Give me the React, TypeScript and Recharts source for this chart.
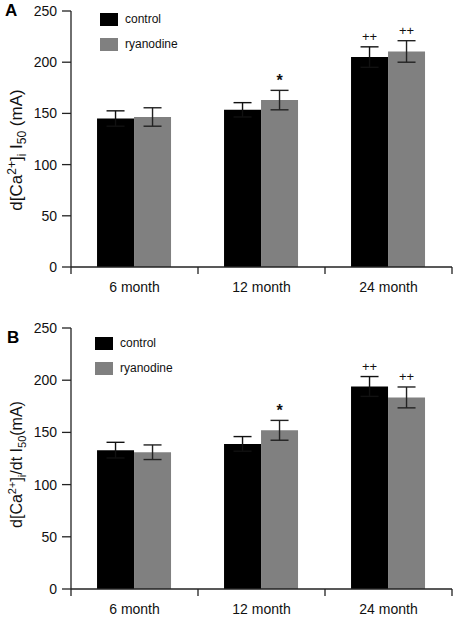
import React from "react";
import {
  BarChart,
  Bar,
  XAxis,
  YAxis,
  ErrorBar,
  LabelList,
  Label,
} from "recharts";

const months = ["6 month", "12 month", "24 month"];
const yTicks = [0, 50, 100, 150, 200, 250];

// panel A: d[Ca2+]i I50
const controlA = [145, 153.5, 205];
const controlErrA = [7.5, 7, 10];
const ryanodineA = [146.5, 163, 210.5];
const ryanodineErrA = [9, 9.5, 10.5];

// panel B: d[Ca2+]i/dt I50
const controlB = [133, 139, 194];
const controlErrB = [7.5, 7, 9.5];
const ryanodineB = [131, 152, 183.5];
const ryanodineErrB = [7, 9.5, 10];

const controlMarks = ["", "", "++"];
const ryanodineMarks = ["", "*", "++"];

const FONT = "'Liberation Sans', Arial, Helvetica, sans-serif";
const AXIS = "#222";

const buildRows = (
  ctrl: number[],
  ctrlErr: number[],
  ryan: number[],
  ryanErr: number[]
) =>
  months.map((m, i) => ({
    month: m,
    control: ctrl[i],
    controlErr: ctrlErr[i],
    ryanodine: ryan[i],
    ryanodineErr: ryanErr[i],
    controlMark: controlMarks[i],
    ryanodineMark: ryanodineMarks[i],
  }));

const MonthTick = (props: any) => {
  const { x, y, payload, index } = props;
  const half = payload && payload.offset ? payload.offset : 63.5;
  return (
    <g>
      <line x1={x - half} x2={x - half} y1={y} y2={y + 7} stroke={AXIS} strokeWidth={1.3} />
      {index === months.length - 1 && (
        <line x1={x + half} x2={x + half} y1={y} y2={y + 7} stroke={AXIS} strokeWidth={1.3} />
      )}
      <text x={x} y={y + 25} textAnchor="middle" fontSize={14} fontFamily={FONT} fill="#111">
        {payload.value}
      </text>
    </g>
  );
};

const markRenderer = (values: number[], errs: number[]) => (props: any) => {
  const { x, y, width, height, value, index } = props;
  if (!value) return null;
  const perUnit = height / values[index];
  const top = y - errs[index] * perUnit;
  const star = value === "*";
  return (
    <text
      x={x + width / 2}
      y={star ? top - 4 : top - 6}
      textAnchor="middle"
      fontSize={star ? 16 : 13}
      fontWeight={star ? "bold" : "normal"}
      fontFamily={FONT}
      fill="#111"
    >
      {value}
    </text>
  );
};

const yLabelRenderer = (kind: "A" | "B", shift: number, size: number) => (props: any) => {
  const vb = props.viewBox || { x: 11, y: 0, width: 60, height: 256 };
  const cx = vb.x + 11;
  const cy = vb.y + vb.height / 2 + shift;
  const small = Math.round(size * 0.68);
  return (
    <text
      x={cx}
      y={cy}
      transform={`rotate(-90, ${cx}, ${cy})`}
      textAnchor="middle"
      fontSize={size}
      fontFamily={FONT}
      fill="#111"
    >
      <tspan>d[Ca</tspan>
      <tspan fontSize={small} dy={-6}>2+</tspan>
      <tspan dy={6}>]</tspan>
      <tspan fontSize={small} dy={4}>i</tspan>
      {kind === "A" ? (
        <>
          <tspan dy={-4}> I</tspan>
          <tspan fontSize={small} dy={4}>50</tspan>
          <tspan dy={-4}> (mA)</tspan>
        </>
      ) : (
        <>
          <tspan dy={-4}>/dt I</tspan>
          <tspan fontSize={small} dy={4}>50</tspan>
          <tspan dy={-4}>(mA)</tspan>
        </>
      )}
    </text>
  );
};

interface PanelProps {
  letter: string;
  kind: "A" | "B";
  top: number;
  height: number;
  marginTop: number;
  axisHeight: number;
  ctrl: number[];
  ctrlErr: number[];
  ryan: number[];
  ryanErr: number[];
  legendX: number;
  legendY: number;
  labelShift: number;
  labelSize: number;
}

const Panel: React.FC<PanelProps> = (p) => {
  const rows = buildRows(p.ctrl, p.ctrlErr, p.ryan, p.ryanErr);
  return (
    <div style={{ position: "absolute", left: 0, top: p.top, width: 454, height: p.height }}>
      <BarChart
        width={454}
        height={p.height}
        data={rows}
        margin={{ top: p.marginTop, right: 2, bottom: 0, left: 11 }}
        barCategoryGap="20.5%"
        barGap={0}
      >
        <XAxis
          dataKey="month"
          height={p.axisHeight}
          tickSize={0}
          tickMargin={0}
          tickLine={false}
          stroke={AXIS}
          strokeWidth={1.3}
          tick={<MonthTick />}
          interval={0}
        />
        <YAxis
          width={60}
          domain={[0, 250]}
          ticks={yTicks}
          tickSize={9}
          tickMargin={5}
          stroke={AXIS}
          strokeWidth={1.3}
          tick={{ fontSize: 14, fontFamily: FONT, fill: "#111" }}
        >
          <Label content={yLabelRenderer(p.kind, p.labelShift, p.labelSize)} />
        </YAxis>
        <Bar dataKey="control" fill="#000000" isAnimationActive={false}>
          <ErrorBar dataKey="controlErr" width={9} stroke="#111" strokeWidth={1.4} direction="y" />
          <LabelList dataKey="controlMark" content={markRenderer(p.ctrl, p.ctrlErr)} />
        </Bar>
        <Bar dataKey="ryanodine" fill="#808080" isAnimationActive={false}>
          <ErrorBar dataKey="ryanodineErr" width={9} stroke="#222" strokeWidth={1.4} direction="y" />
          <LabelList dataKey="ryanodineMark" content={markRenderer(p.ryan, p.ryanErr)} />
        </Bar>
      </BarChart>
      <div
        style={{
          position: "absolute",
          left: p.letter === "A" ? 5 : 7,
          top: p.letter === "A" ? 1 : 23,
          fontFamily: FONT,
          fontWeight: "bold",
          fontSize: 17,
        }}
      >
        {p.letter}
      </div>
      <div style={{ position: "absolute", left: p.legendX, top: p.legendY, fontFamily: FONT, fontSize: 12 }}>
        {[
          { name: "control", color: "#000000" },
          { name: "ryanodine", color: "#808080" },
        ].map((item, i) => (
          <div
            key={item.name}
            style={{ position: "absolute", left: 0, top: i * 25, display: "flex", alignItems: "center", whiteSpace: "nowrap" }}
          >
            <span style={{ display: "inline-block", width: 18, height: 13, background: item.color }} />
            <span style={{ marginLeft: 7, color: "#111" }}>{item.name}</span>
          </div>
        ))}
      </div>
    </div>
  );
};

export default function App() {
  return (
    <div style={{ position: "absolute", left: 0, top: 0, width: 454, height: 618, background: "#fff" }}>
      <Panel
        letter="A"
        kind="A"
        top={0}
        height={300}
        marginTop={11}
        axisHeight={33}
        ctrl={controlA}
        ctrlErr={controlErrA}
        ryan={ryanodineA}
        ryanErr={ryanodineErrA}
        legendX={100}
        legendY={12}
        labelShift={11}
        labelSize={17}
      />
      <Panel
        letter="B"
        kind="B"
        top={305}
        height={313}
        marginTop={23}
        axisHeight={29}
        ctrl={controlB}
        ctrlErr={controlErrB}
        ryan={ryanodineB}
        ryanErr={ryanodineErrB}
        legendX={95}
        legendY={31}
        labelShift={6}
        labelSize={16}
      />
    </div>
  );
}
